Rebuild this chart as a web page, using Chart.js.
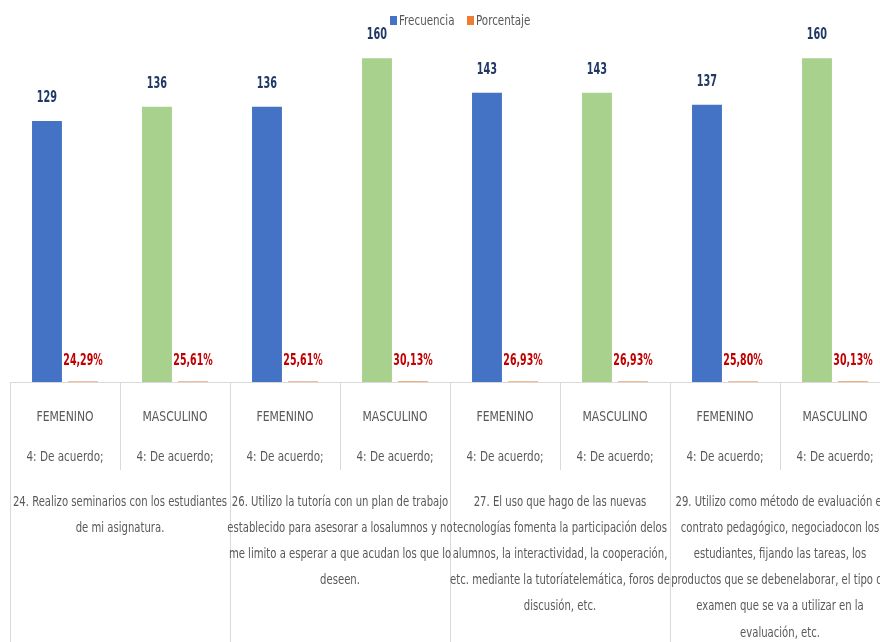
<!DOCTYPE html>
<html>
<head>
<meta charset="utf-8">
<script src="https://cdn.jsdelivr.net/npm/chart.js@4"></script>
<style>
  html, body { margin: 0; padding: 0; background: #fff; overflow: hidden; }
  #caja { width: 890px; height: 642px; }
</style>
</head>
<body>
<div id="caja"><canvas id="grafico"></canvas></div>
<script>
    // datos
    const sexos = ['FEMENINO', 'MASCULINO', 'FEMENINO', 'MASCULINO', 'FEMENINO', 'MASCULINO', 'FEMENINO', 'MASCULINO'];
    const respuestas = ['4: De acuerdo;', '4: De acuerdo;', '4: De acuerdo;', '4: De acuerdo;', '4: De acuerdo;', '4: De acuerdo;', '4: De acuerdo;', '4: De acuerdo;'];
    const frecuencia = [129, 136, 136, 160, 143, 143, 137, 160];
    const porcentaje = [0.2429, 0.2561, 0.2561, 0.3013, 0.2693, 0.2693, 0.2580, 0.3013];
    const preguntas = [
        ['24. Realizo seminarios con los estudiantes', 'de mi asignatura.'],
        ['26. Utilizo la tutoría con un plan de trabajo', 'establecido para asesorar a losalumnos y no', 'me limito a esperar a que acudan los que lo', 'deseen.'],
        ['27. El uso que hago de las nuevas', 'tecnologías fomenta la participación delos', 'alumnos, la interactividad, la cooperación,', 'etc. mediante la tutoríatelemática, foros de', 'discusión, etc.'],
        ['29. Utilizo como método de evaluación el', 'contrato pedagógico, negociadocon los', 'estudiantes, fijando las tareas, los', 'productos que se debenelaborar, el tipo de', 'examen que se va a utilizar en la', 'evaluación, etc.']
    ];

    const FUENTE = "'Liberation Sans Narrow', 'DejaVu Sans Condensed', sans-serif";
    const AZUL = '#4472C4';
    const VERDE = '#A9D18E';
    const NARANJA = '#ED7D31';
    const GRIS = '#595959';
    const LINEA = '#D9D9D9';

    // texto estrecho: se comprime en horizontal
    function texto(ctx, str, x, y, esc) {
        ctx.save();
        ctx.translate(x, y);
        ctx.scale(esc, 1);
        ctx.fillText(str, 0, 0);
        ctx.restore();
    }

    // etiquetas, leyenda y tabla de categorias
    const dibujoExtra = {
        id: 'dibujoExtra',
        afterDatasetsDraw(chart) {
            const ctx = chart.ctx;
            const area = chart.chartArea;
            const x = chart.scales.x;
            const ancho = x.getPixelForValue(1) - x.getPixelForValue(0);
            const base = area.bottom;
            ctx.save();
            ctx.textAlign = 'center';
            ctx.textBaseline = 'middle';

            // valores de frecuencia
            const metaF = chart.getDatasetMeta(0);
            ctx.font = 'bold 15px ' + FUENTE;
            ctx.fillStyle = '#203864';
            metaF.data.forEach((barra, i) => {
                texto(ctx, String(frecuencia[i]), barra.x, barra.y - 23, 0.72);
            });

            // valores de porcentaje
            const metaP = chart.getDatasetMeta(1);
            ctx.fillStyle = '#C00000';
            metaP.data.forEach((barra, i) => {
                const txt = (porcentaje[i] * 100).toFixed(2).replace('.', ',') + '%';
                texto(ctx, txt, barra.x, base - 21, 0.7);
            });

            // lineas de la tabla
            ctx.strokeStyle = LINEA;
            ctx.lineWidth = 1;
            ctx.beginPath();
            ctx.moveTo(area.left, base + 0.5);
            ctx.lineTo(area.right, base + 0.5);
            for (let i = 0; i <= sexos.length; i++) {
                const xi = Math.round(x.getPixelForValue(i) - ancho / 2) + 0.5;
                ctx.moveTo(xi, base);
                ctx.lineTo(xi, i % 2 === 0 ? 642 : base + 88);
            }
            ctx.stroke();

            ctx.font = '14px ' + FUENTE;
            ctx.fillStyle = GRIS;
            sexos.forEach((s, i) => {
                const xc = x.getPixelForValue(i);
                texto(ctx, s, xc, base + 35, 0.86);
                texto(ctx, respuestas[i], xc, base + 75, 0.83);
            });
            preguntas.forEach((lineas, j) => {
                const xc = (x.getPixelForValue(2 * j) + x.getPixelForValue(2 * j + 1)) / 2;
                lineas.forEach((l, k) => {
                    texto(ctx, l, xc, base + 120 + k * 26.2, 0.8);
                });
            });

            // leyenda
            ctx.textAlign = 'left';
            const items = [['Frecuencia', AZUL, 390], ['Porcentaje', NARANJA, 467]];
            items.forEach(([txt, color, xl]) => {
                ctx.fillStyle = color;
                ctx.fillRect(xl, 16, 7, 9);
                ctx.fillStyle = GRIS;
                texto(ctx, txt, xl + 9, 21, 0.82);
            });
            ctx.restore();
        }
    };

    new Chart(document.getElementById('grafico'), {
        type: 'bar',
        data: {
            labels: sexos,
            datasets: [{
                label: 'Frecuencia',
                data: frecuencia,
                backgroundColor: frecuencia.map((v, i) => i % 2 === 0 ? AZUL : VERDE),
                categoryPercentage: 0.655,
                barPercentage: 0.83
            }, {
                label: 'Porcentaje',
                data: porcentaje,
                backgroundColor: NARANJA,
                categoryPercentage: 0.655,
                barPercentage: 0.83
            }]
        },
        options: {
            responsive: true,
            maintainAspectRatio: false,
            animation: false,
            layout: {
                padding: { left: 10, right: 0, top: 38, bottom: 260 }
            },
            plugins: {
                legend: { display: false },
                tooltip: { enabled: false }
            },
            scales: {
                x: { display: false },
                y: { display: false, min: 0, max: 170 }
            }
        },
        plugins: [dibujoExtra]
    });
</script>
</body>
</html>
